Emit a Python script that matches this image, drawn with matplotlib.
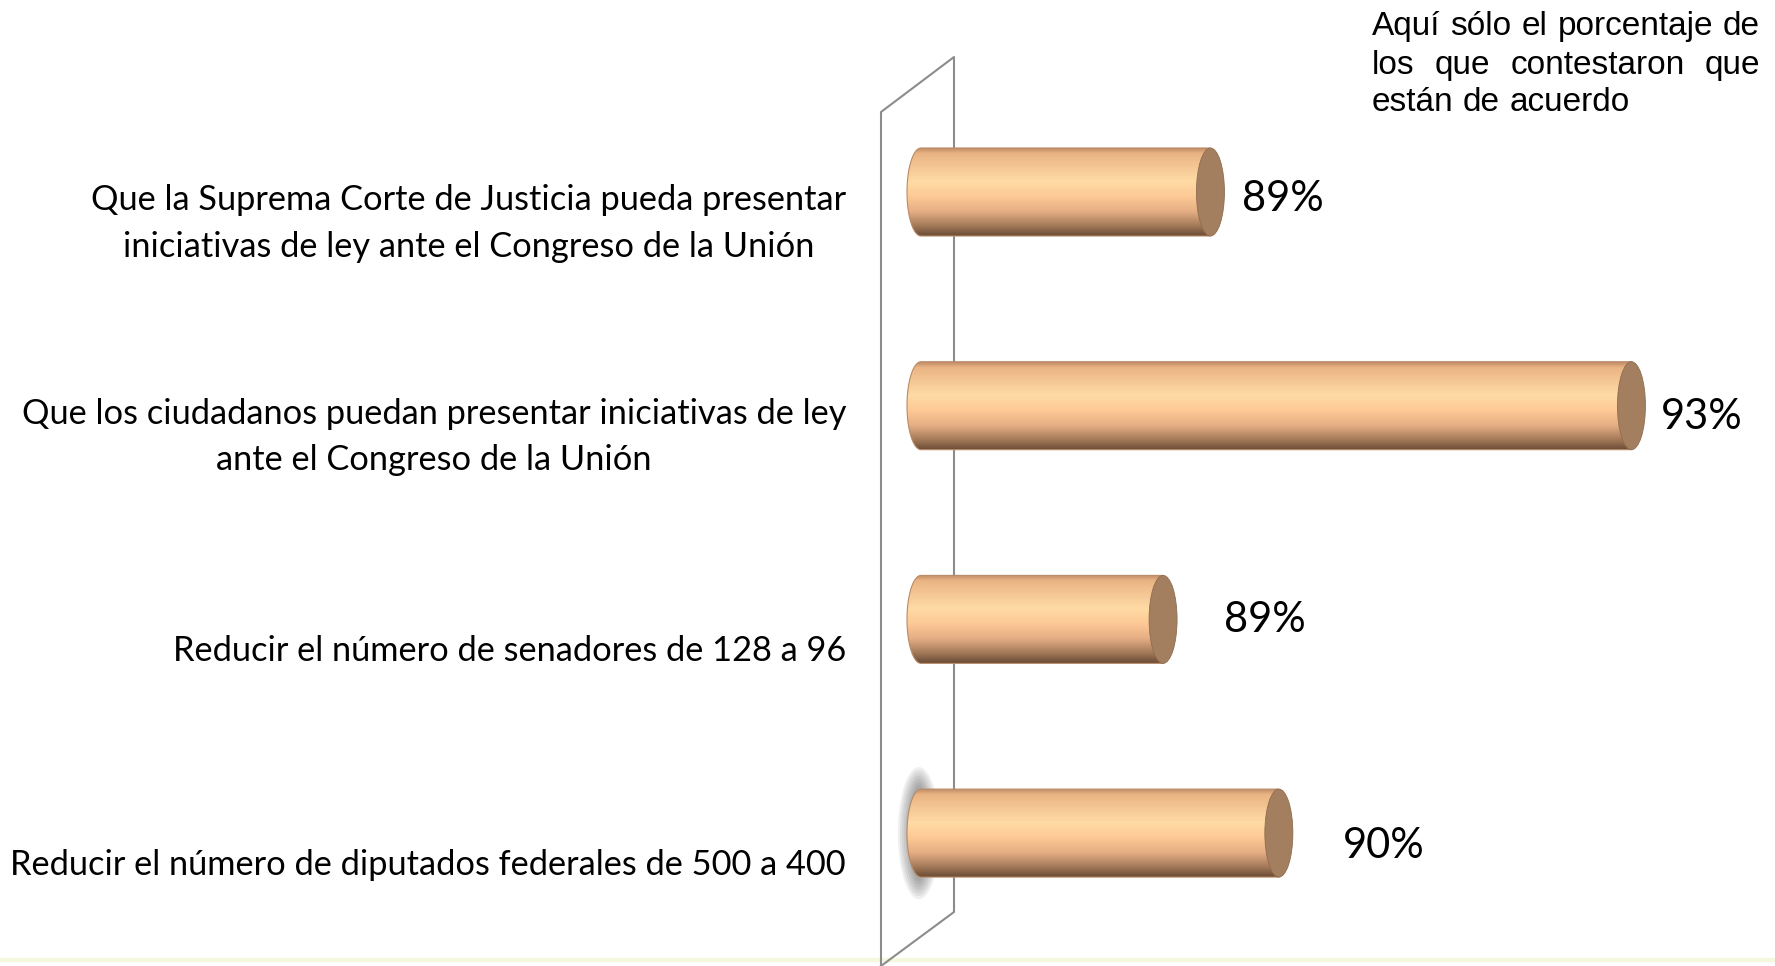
import numpy as np
import matplotlib.pyplot as plt
from matplotlib.colors import LinearSegmentedColormap
from matplotlib.patches import Ellipse, PathPatch
from matplotlib.path import Path
from matplotlib.lines import Line2D

categories = [
    "Que la Suprema Corte de Justicia pueda presentar\niniciativas de ley ante el Congreso de la Unión",
    "Que los ciudadanos puedan presentar iniciativas de ley\nante el Congreso de la Unión",
    "Reducir el número de senadores de 128 a 96",
    "Reducir el número de diputados federales de 500 a 400",
]
values = [89.0, 93.0, 88.55, 89.65]
note_lines = ["Aquí sólo el porcentaje de", "los que contestaron que", "están de acuerdo"]

# layout (pixels)
W, H = 1775, 966
BASE = 86.25        # value where the cylinders start
BASE_PX = 921
PX_PER = 105.25     # pixels per percentage point
ROW0_PX = 192
ROW_PX = 213.7
LABEL_R = 846       # right edge of category labels
LABEL_W = 835       # width of the longest category label
label_dx = [18, 15, 47, 50]
label_dy = [-7, -11, -1, -13]

fig = plt.figure(figsize=(W / 100, H / 100), dpi=100)
ax = fig.add_axes([0, 0, 1, 1])
ax.set_axis_off()


def fx(px):
    return px / W


def fy(py):
    return 1 - py / H


# back wall
wall = Line2D([fx(881), fx(954), fx(954), fx(881), fx(881)],
              [fy(966), fy(912), fy(57), fy(112), fy(966)],
              transform=fig.transFigure, color="#8c8c8c", lw=1.5, zorder=1)
ax.add_artist(wall)
ax.add_artist(Line2D([0, 1], [fy(960), fy(960)], transform=fig.transFigure,
                     color="#f4f8dc", lw=3, zorder=0))

bar_h = 88 / ROW_PX
cap_w = 28 / PX_PER
body = LinearSegmentedColormap.from_list("body", [
    (0.0, "#c08c68"), (0.06, "#eab483"), (0.38, "#ffdba5"), (0.55, "#fdc995"),
    (0.72, "#e6ae84"), (0.88, "#a57b5a"), (1.0, "#6a4c36")])
grad = np.linspace(0, 1, 256).reshape(-1, 1)
t = np.linspace(np.pi / 2, 3 * np.pi / 2, 40)

cat_texts = []
for i, v in enumerate(values):
    top, bot = i - bar_h / 2, i + bar_h / 2
    arc = list(zip(BASE + cap_w / 2 * np.cos(t), i + bar_h / 2 * np.sin(t)))
    verts = [(BASE, top), (v, top), (v, bot)] + arc + [(BASE, top)]
    codes = [Path.MOVETO] + [Path.LINETO] * (len(verts) - 2) + [Path.CLOSEPOLY]
    outline = PathPatch(Path(verts, codes), facecolor="none", edgecolor="#b98a66",
                        lw=0.8, zorder=3)
    ax.add_patch(outline)
    im = ax.imshow(grad, cmap=body, extent=(BASE - cap_w / 2, v, bot, top),
                   aspect="auto", origin="upper", interpolation="bicubic", zorder=2)
    im.set_clip_path(outline)
    ax.add_patch(Ellipse((v, i), cap_w, bar_h, facecolor="#a47f5f",
                         edgecolor="#8f6d50", lw=0.6, zorder=4))

    ax.annotate(f"{v:.0f}%", xy=(v, i), xytext=(14 + label_dx[i], label_dy[i]),
                textcoords="offset pixels", ha="left", va="center",
                fontsize=30, family="Lato")
    cat_texts.append(ax.annotate(categories[i], xy=(BASE, i), xytext=(LABEL_R - BASE_PX, -31.5),
                                 textcoords="offset pixels", ha="right", va="center",
                                 multialignment="center", fontsize=26, family="Lato",
                                 linespacing=1.55))

# soft shadow behind the last cylinder's left end
for k in range(7):
    ax.add_patch(Ellipse((BASE - 0.02, 3), (18 + 4 * k) / PX_PER, (96 + 6 * k) / ROW_PX,
                         facecolor="#505050", edgecolor="none", alpha=0.09, zorder=1.5))

ax.set_xlim(BASE - BASE_PX / PX_PER, BASE + (W - BASE_PX) / PX_PER)
ax.set_ylim((H - ROW0_PX) / ROW_PX, -ROW0_PX / ROW_PX)

fig.canvas.draw()
r = fig.canvas.get_renderer()

# fit category labels to the reference width
widest = max(c.get_window_extent(r).width for c in cat_texts)
for c in cat_texts:
    c.set_fontsize(26 * LABEL_W / widest)

# justified note, top right
NOTE_L, NOTE_R = 1372, 1760
baselines = [35, 74, 111]
for k, line in enumerate(note_lines):
    words = line.split()
    arts = [fig.text(0, 0, w, fontsize=24, family="Liberation Sans", va="baseline")
            for w in words]
    widths = [a.get_window_extent(r).width for a in arts]
    if k < len(note_lines) - 1:
        gap = (NOTE_R - NOTE_L - sum(widths)) / (len(words) - 1)
    else:
        gap = 9.3
    x = NOTE_L
    for a, wd in zip(arts, widths):
        a.set_position((fx(x), fy(baselines[k])))
        x += wd + gap

fig.savefig("out.png", dpi=100)
